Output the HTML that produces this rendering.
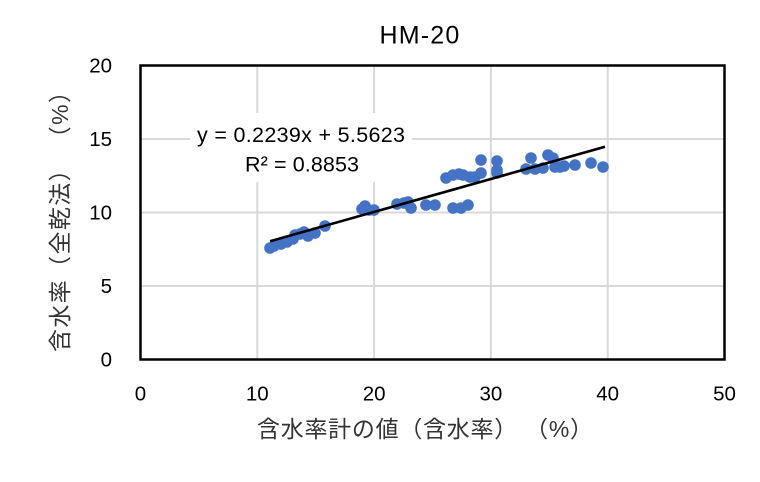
<!DOCTYPE html>
<html>
<head>
<meta charset="utf-8">
<style>
  html, body { margin:0; padding:0; background:#ffffff; }
  body { width:760px; height:482px; overflow:hidden; }
  svg { display:block; }
  .tick { font-family:"Liberation Sans", sans-serif; font-size:20.5px; fill:#000; }
  .ttl { font-family:"Liberation Sans", "Noto Sans CJK JP", sans-serif; font-size:23px; fill:#333; }
  .eq { font-family:"Liberation Sans", sans-serif; font-size:21.5px; fill:#000; }
</style>
</head>
<body>
<svg width="760" height="482" viewBox="0 0 760 482" xmlns="http://www.w3.org/2000/svg">
  <rect x="0" y="0" width="760" height="482" fill="#ffffff"/>

  <text x="420" y="43.5" text-anchor="middle" font-family="Liberation Sans, sans-serif" font-size="25" letter-spacing="1.2" fill="#000">HM-20</text>

  <g stroke="#d9d9d9" stroke-width="2">
    <line x1="257.3" y1="65.5" x2="257.3" y2="359.5"/>
    <line x1="374.1" y1="65.5" x2="374.1" y2="359.5"/>
    <line x1="490.9" y1="65.5" x2="490.9" y2="359.5"/>
    <line x1="607.7" y1="65.5" x2="607.7" y2="359.5"/>
    <line x1="140.5" y1="139" x2="724.5" y2="139"/>
    <line x1="140.5" y1="212.5" x2="724.5" y2="212.5"/>
    <line x1="140.5" y1="286" x2="724.5" y2="286"/>
  </g>

  <rect x="190" y="113" width="222" height="69" fill="#ffffff"/>
  <text class="eq" x="301" y="142" text-anchor="middle" textLength="208" lengthAdjust="spacing">y = 0.2239x + 5.5623</text>
  <text class="eq" x="302" y="171.5" text-anchor="middle" textLength="114" lengthAdjust="spacing">R² = 0.8853</text>

  <g fill="#4472c4">
    <circle cx="270" cy="248" r="5.8"/>
    <circle cx="274" cy="246" r="5.8"/>
    <circle cx="281" cy="244" r="5.8"/>
    <circle cx="287" cy="242" r="5.8"/>
    <circle cx="293" cy="239" r="5.8"/>
    <circle cx="295" cy="235" r="5.8"/>
    <circle cx="300" cy="234" r="5.8"/>
    <circle cx="304" cy="232" r="5.8"/>
    <circle cx="308" cy="236" r="5.8"/>
    <circle cx="315" cy="233" r="5.8"/>
    <circle cx="325" cy="226" r="5.8"/>
    <circle cx="362" cy="209" r="5.8"/>
    <circle cx="365" cy="206" r="5.8"/>
    <circle cx="369" cy="210" r="5.8"/>
    <circle cx="374" cy="210" r="5.8"/>
    <circle cx="397" cy="204" r="5.8"/>
    <circle cx="404" cy="203" r="5.8"/>
    <circle cx="408" cy="202" r="5.8"/>
    <circle cx="411" cy="208" r="5.8"/>
    <circle cx="426" cy="205" r="5.8"/>
    <circle cx="435" cy="205" r="5.8"/>
    <circle cx="453" cy="208" r="5.8"/>
    <circle cx="461" cy="208" r="5.8"/>
    <circle cx="468" cy="205" r="5.8"/>
    <circle cx="446" cy="178" r="5.8"/>
    <circle cx="453" cy="175" r="5.8"/>
    <circle cx="459" cy="174" r="5.8"/>
    <circle cx="463" cy="175" r="5.8"/>
    <circle cx="470" cy="177" r="5.8"/>
    <circle cx="475" cy="177" r="5.8"/>
    <circle cx="481" cy="173" r="5.8"/>
    <circle cx="481" cy="160" r="5.8"/>
    <circle cx="497" cy="161" r="5.8"/>
    <circle cx="497" cy="170" r="5.8"/>
    <circle cx="497" cy="173" r="5.8"/>
    <circle cx="526" cy="169" r="5.8"/>
    <circle cx="531" cy="158" r="5.8"/>
    <circle cx="535" cy="169" r="5.8"/>
    <circle cx="543" cy="168" r="5.8"/>
    <circle cx="548" cy="155" r="5.8"/>
    <circle cx="553" cy="158" r="5.8"/>
    <circle cx="555" cy="167" r="5.8"/>
    <circle cx="560" cy="167" r="5.8"/>
    <circle cx="564" cy="166" r="5.8"/>
    <circle cx="575" cy="165" r="5.8"/>
    <circle cx="591" cy="163" r="5.8"/>
    <circle cx="603" cy="167" r="5.8"/>
  </g>

  <line x1="270" y1="241.3" x2="605" y2="146.8" stroke="#000" stroke-width="2.6"/>

  <rect x="140.5" y="65.5" width="584" height="294" fill="none" stroke="#000" stroke-width="2.5"/>

  <g class="tick" text-anchor="middle">
    <text x="140.5" y="400.5">0</text>
    <text x="257.3" y="400.5">10</text>
    <text x="374.1" y="400.5">20</text>
    <text x="490.9" y="400.5">30</text>
    <text x="607.7" y="400.5">40</text>
    <text x="724.5" y="400.5">50</text>
  </g>

  <g class="tick" text-anchor="end">
    <text x="112" y="366.5">0</text>
    <text x="112" y="293">5</text>
    <text x="112" y="219.5">10</text>
    <text x="112" y="146">15</text>
    <text x="112" y="72.5">20</text>
  </g>

  <text class="ttl" x="425" y="437" text-anchor="middle" textLength="336" lengthAdjust="spacing">含水率計の値（含水率） （%）</text>
  <text class="ttl" transform="translate(68,216) rotate(-90)" text-anchor="middle" textLength="272" lengthAdjust="spacing">含水率（全乾法） （%）</text>
</svg>
</body>
</html>
